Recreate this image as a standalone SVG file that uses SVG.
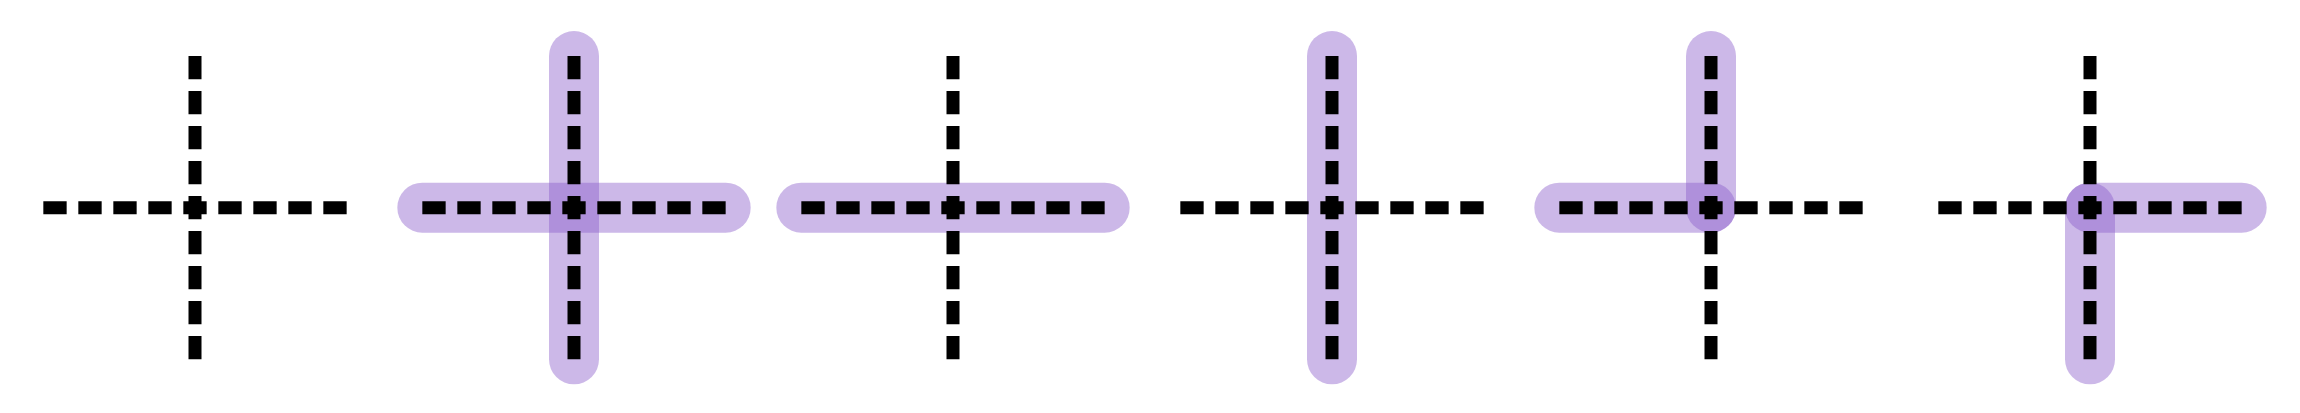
<svg xmlns="http://www.w3.org/2000/svg" width="2300" height="413" viewBox="0 0 2300 413">
<defs>
<style>
.hl{stroke:#8a5ecb;stroke-opacity:0.44;stroke-width:50;stroke-linecap:round;fill:none}
.dl{stroke:#000;stroke-width:13;stroke-dasharray:23.33 11.67;fill:none}
</style>
<g id="cross">
<line class="dl" x1="-151.67" y1="0" x2="151.67" y2="0"/>
<line class="dl" x1="0" y1="-151.67" x2="0" y2="151.67"/>
</g>
</defs>
<rect width="2300" height="413" fill="#fff"/>
<g id="panel1" transform="translate(195,207.67)">
<use href="#cross"/>
</g>
<g id="panel2" transform="translate(574,207.67)">
<line class="hl" x1="-151.67" y1="0" x2="151.67" y2="0"/>
<line class="hl" x1="0" y1="-151.67" x2="0" y2="151.67"/>
<use href="#cross"/>
</g>
<g id="panel3" transform="translate(953,207.67)">
<line class="hl" x1="-151.67" y1="0" x2="151.67" y2="0"/>
<use href="#cross"/>
</g>
<g id="panel4" transform="translate(1332,207.67)">
<line class="hl" x1="0" y1="-151.67" x2="0" y2="151.67"/>
<use href="#cross"/>
</g>
<g id="panel5" transform="translate(1711,207.67)">
<line class="hl" x1="-151.67" y1="0" x2="0" y2="0"/>
<line class="hl" x1="0" y1="-151.67" x2="0" y2="0"/>
<use href="#cross"/>
</g>
<g id="panel6" transform="translate(2090,207.67)">
<line class="hl" x1="0" y1="0" x2="151.67" y2="0"/>
<line class="hl" x1="0" y1="0" x2="0" y2="151.67"/>
<use href="#cross"/>
</g>
</svg>
